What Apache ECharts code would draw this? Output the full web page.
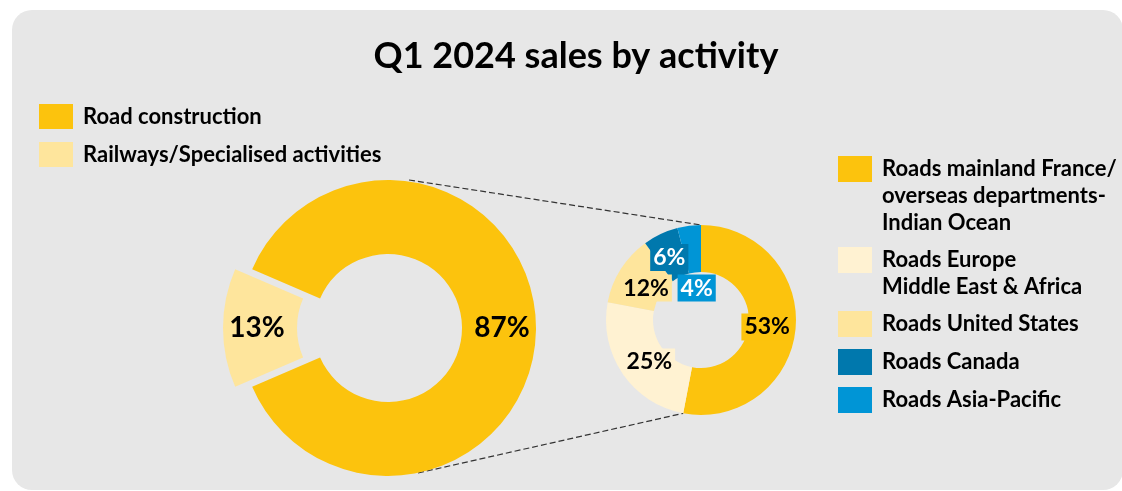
<!DOCTYPE html>
<html>
<head>
<meta charset="utf-8">
<title>Q1 2024 sales by activity</title>
<script src="https://cdn.jsdelivr.net/npm/echarts@6/dist/echarts.min.js"></script>
<style>
  html, body { margin: 0; padding: 0; background: #fff; }
  #chart { width: 1122px; height: 491px; }
</style>
</head>
<body>
<div id="chart"></div>
<script>
// data
const activityNames = ['Road construction', 'Railways/Specialised activities']
const activityShares = [87, 13]

const roadNames = [
  'Roads mainland France/\noverseas departments-\nIndian Ocean',
  'Roads Europe\nMiddle East & Africa',
  'Roads United States',
  'Roads Canada',
  'Roads Asia-Pacific'
]
const roadShares = [53, 25, 12, 6, 4]

const activityColors = ['#FCC30D', '#FEE59C']
const roadColors = ['#FCC30D', '#FFF2D2', '#FEE59C', '#0078AD', '#0095D6']

const FONT = 'Lato'
const bigC = [388, 328], bigR = [74, 148]
const smallC = [701, 320], smallR = [48, 95]
const LINE_H = 27

const chart = echarts.init(document.getElementById('chart'))

// angle (clockwise from 12 o'clock) where the first road slice ends
const roadTotal = roadShares.reduce((a, b) => a + b, 0)
const endAng = roadShares[0] / roadTotal * 2 * Math.PI
const onSmall = (a) => [smallC[0] + smallR[1] * Math.sin(a), smallC[1] - smallR[1] * Math.cos(a)]

// nudges so the small-donut labels sit where the original puts them
const smallOffsets = [[-8, 0], [10, 0], [8, 8], [0, 5], [5, 42]]
const smallLabel = (i) => ({
  backgroundColor: roadColors[i],
  color: i >= 3 ? '#fff' : '#000',
  padding: [3, 3, 1, 3],
  offset: smallOffsets[i]
})

// one legend per item; blank lines in front keep the box on the first text line
const rightTops = [156, 247, 311, 349, 387]
const rightLegends = roadNames.map((name, i) => {
  const n = name.split('\n').length
  const boxH = (2 * n - 1) * LINE_H
  return {
    data: [name],
    orient: 'vertical',
    left: 838,
    top: rightTops[i] + 13 - boxH / 2,
    padding: 0,
    itemWidth: 34,
    itemHeight: 26,
    icon: 'rect',
    selectedMode: false,
    formatter: (s) => '\n'.repeat(n - 1) + s,
    textStyle: {
      fontFamily: FONT,
      fontWeight: 'bold',
      fontSize: 22,
      color: '#000',
      lineHeight: LINE_H,
      padding: [0, 0, 0, 5]
    }
  }
})

const option = {
  backgroundColor: '#fff',
  animation: false,
  title: {
    text: 'Q1 2024 sales by activity',
    left: 571,
    textAlign: 'center',
    top: 33,
    textStyle: { fontFamily: FONT, fontWeight: 'bold', fontSize: 36, color: '#000' }
  },
  graphic: [
    {
      type: 'rect', z: -10, silent: true,
      shape: { x: 12, y: 10, width: 1111, height: 480, r: 20 },
      style: { fill: '#E7E7E7' }
    },
    {
      type: 'line', z: 1, silent: true,
      shape: { x1: bigC[0] + 21, y1: bigC[1] - bigR[1], x2: smallC[0], y2: smallC[1] - smallR[1] },
      style: { stroke: '#333', lineWidth: 1.2, lineDash: [6, 3] }
    },
    {
      type: 'line', z: 1, silent: true,
      shape: { x1: bigC[0] + 30, y1: bigC[1] + bigR[1] - 3, x2: onSmall(endAng)[0], y2: onSmall(endAng)[1] },
      style: { stroke: '#333', lineWidth: 1.2, lineDash: [6, 3] }
    }
  ],
  legend: [
    {
      data: activityNames,
      orient: 'vertical',
      left: 39,
      top: 104,
      padding: 0,
      itemWidth: 34,
      itemHeight: 25,
      itemGap: 13,
      icon: 'rect',
      selectedMode: false,
      textStyle: { fontFamily: FONT, fontWeight: 'bold', fontSize: 22, color: '#000', padding: [0, 0, 0, 5] }
    },
    ...rightLegends
  ],
  series: [
    {
      name: 'Activity',
      type: 'pie',
      center: bigC,
      radius: bigR,
      startAngle: 156.6,
      clockwise: true,
      selectedMode: 'single',
      selectedOffset: 17,
      silent: true,
      emphasis: { disabled: true },
      label: {
        show: true,
        position: 'inside',
        formatter: '{c}%',
        fontFamily: FONT,
        fontWeight: 'bold',
        fontSize: 28,
        color: '#000'
      },
      labelLine: { show: false },
      data: activityNames.map((name, i) => ({
        name,
        value: activityShares[i],
        selected: i === 1,
        itemStyle: { color: activityColors[i] }
      }))
    },
    {
      name: 'Roads',
      type: 'pie',
      center: smallC,
      radius: smallR,
      startAngle: 90,
      clockwise: true,
      silent: true,
      emphasis: { disabled: true },
      label: {
        show: true,
        position: 'inside',
        formatter: '{c}%',
        fontFamily: FONT,
        fontWeight: 'bold',
        fontSize: 23,
        color: '#000'
      },
      labelLine: { show: false },
      data: roadNames.map((name, i) => ({
        name,
        value: roadShares[i],
        itemStyle: { color: roadColors[i] },
        label: smallLabel(i)
      }))
    }
  ]
}

chart.setOption(option)
</script>
</body>
</html>
